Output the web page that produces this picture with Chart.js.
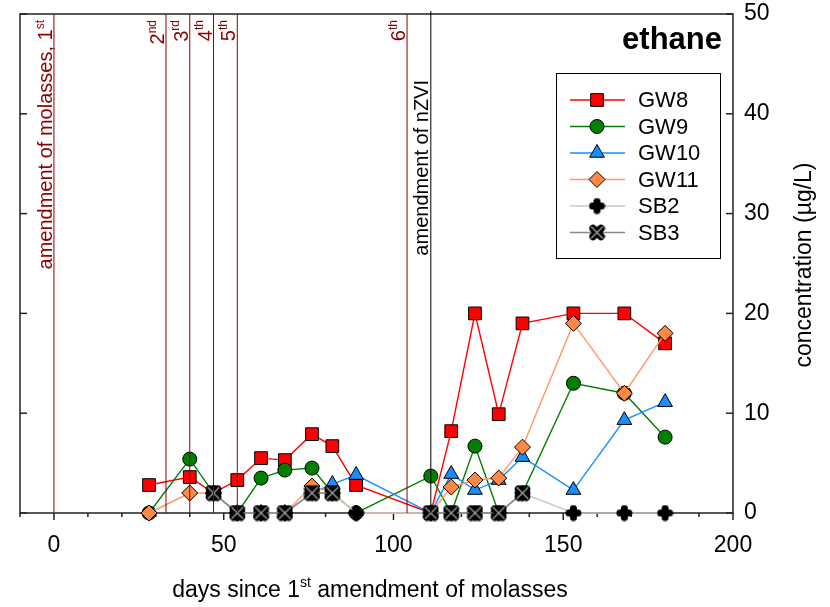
<!DOCTYPE html>
<html>
<head>
<meta charset="utf-8">
<script src="https://cdn.jsdelivr.net/npm/chart.js@4.4.0/dist/chart.umd.min.js"></script>
<style>
  html, body { margin: 0; padding: 0; background: #fff; }
  #wrap { width: 830px; height: 607px; }
</style>
</head>
<body>
<div id="wrap"><canvas id="grafico" width="830" height="607"></canvas></div>
<script>
// dias desde a 1a adição de melaço
const dias = [28, 40, 47, 54, 61, 68, 76, 82, 89, 111, 117, 124, 131, 138, 153, 168, 180];
const gw8  = [2.8, 3.6, 2.0, 3.3, 5.5, 5.3, 7.9, 6.7, 2.8, 0, 8.2, 20, 9.9, 19, 20, 20, 17];
const gw9  = [0, 5.4, 2.0, 0, 3.5, 4.3, 4.5, 2.0, 0, 3.7, 0, 6.7, 0, 2.0, 13, 12, 7.6];
const gw10 = [null, null, 2.0, 0, 0, 0, 2.0, 2.9, 3.8, 0, 3.9, 2.3, 3.3, 5.6, 2.3, 9.3, 11.1];
const gw11 = [0, 2.0, 2.0, 0, 0, 0, 2.7, 2.0, 0, 0, 2.6, 3.3, 3.5, 6.6, 19, 12, 18];
const sb2  = [null, null, 2.0, 0, 0, 0, 2.0, 2.0, 0, 0, 0, 0, 0, 2.0, 0, 0, 0];
const sb3  = [null, null, 2.0, 0, 0, 0, 2.0, 2.0, null, 0, 0, 0, 0, 2.0, null, null, null];

const diasMelaco = [0, 33, 40, 47, 54, 104];
const ordinais = ['1st', '2nd', '3rd', '4th', '5th', '6th'];
const diaNZVI = 111;

const FONTE = '"Liberation Sans", Arial, sans-serif';

function marcadorX() {
  const c = document.createElement('canvas');
  c.width = 17; c.height = 17;
  const g = c.getContext('2d');
  g.lineCap = 'round';
  g.strokeStyle = '#000';
  g.lineWidth = 7.5;
  g.beginPath();
  g.moveTo(4.5, 4.5); g.lineTo(12.5, 12.5);
  g.moveTo(12.5, 4.5); g.lineTo(4.5, 12.5);
  g.stroke();
  g.strokeStyle = '#a8a8a8';
  g.lineWidth = 1.2;
  g.beginPath();
  g.moveTo(3, 3); g.lineTo(14, 14);
  g.moveTo(14, 3); g.lineTo(3, 14);
  g.stroke();
  return c;
}

function marcadorMais() {
  const c = document.createElement('canvas');
  c.width = 17; c.height = 17;
  const g = c.getContext('2d');
  g.lineCap = 'round';
  g.strokeStyle = '#000';
  g.lineWidth = 7;
  g.beginPath();
  g.moveTo(8.5, 4); g.lineTo(8.5, 13);
  g.moveTo(4, 8.5); g.lineTo(13, 8.5);
  g.stroke();
  return c;
}

function pontos(serie) {
  return dias.map((d, i) => ({ x: d, y: serie[i] }));
}

function drawRich(ctx, parts, x, y, angle, align, size, bold, color) {
  const fBase = (bold ? 'bold ' : '') + size + 'px ' + FONTE;
  const fSup = Math.round(size * 0.62) + 'px ' + FONTE;
  ctx.save();
  ctx.translate(x, y);
  ctx.rotate(angle);
  ctx.fillStyle = color;
  ctx.textBaseline = 'alphabetic';
  ctx.textAlign = 'left';
  const w = parts.map(([t, sup]) => { ctx.font = sup ? fSup : fBase; return ctx.measureText(t).width; });
  const total = w.reduce((a, b) => a + b, 0);
  let cx = align === 'right' ? -total : align === 'center' ? -total / 2 : 0;
  parts.forEach(([t, sup], i) => {
    ctx.font = sup ? fSup : fBase;
    ctx.fillText(t, cx, sup ? -size * 0.42 : 0);
    cx += w[i];
  });
  ctx.restore();
}

function linha(ctx, x1, y1, x2, y2) {
  ctx.beginPath();
  ctx.moveTo(x1, y1);
  ctx.lineTo(x2, y2);
  ctx.stroke();
}

const moldura = {
  id: 'moldura',
  beforeDatasetsDraw(chart) {
    const { ctx, chartArea: a, scales } = chart;
    ctx.save();
    ctx.strokeStyle = '#222';
    ctx.lineWidth = 1.5;
    ctx.strokeRect(a.left, a.top, a.right - a.left, a.bottom - a.top);
    scales.x.ticks.forEach(t => {
      const px = scales.x.getPixelForValue(t.value);
      linha(ctx, px, a.bottom, px, a.bottom + (t.value % 50 === 0 ? 7 : 4));
    });
    scales.y.ticks.forEach(t => {
      const py = scales.y.getPixelForValue(t.value);
      linha(ctx, a.left, py, a.left + 7, py);
      linha(ctx, a.right - 7, py, a.right, py);
    });
    ctx.restore();
  },
  afterDatasetsDraw(chart) {
    const { ctx, chartArea: a, scales } = chart;
    ctx.save();
    ctx.lineWidth = 1;
    ctx.strokeStyle = '#8b0000';
    diasMelaco.forEach((d, i) => {
      const px = scales.x.getPixelForValue(d);
      linha(ctx, px, a.top, px, a.bottom);
      const num = ordinais[i].slice(0, 1);
      const suf = ordinais[i].slice(1);
      if (i === 0) {
        drawRich(ctx, [['amendment of molasses, ' + num, 0], [suf, 1]], px - 2, 20, -Math.PI / 2, 'right', 20, false, '#8b0000');
      } else {
        drawRich(ctx, [[num, 0], [suf, 1]], px - 2, 20, -Math.PI / 2, 'right', 20, false, '#8b0000');
      }
    });
    ctx.strokeStyle = '#000';
    const pz = scales.x.getPixelForValue(diaNZVI);
    linha(ctx, pz, a.top - 3, pz, a.bottom);
    drawRich(ctx, [['amendment of nZVI', 0]], pz - 3, 80, -Math.PI / 2, 'right', 20, false, '#000');
    ctx.restore();
  },
  afterDraw(chart) {
    const { ctx } = chart;
    drawRich(ctx, [['ethane', 0]], 722, 49, 0, 'right', 31, true, '#000');
    drawRich(ctx, [['days since 1', 0], ['st', 1], [' amendment of molasses', 0]], 370, 597, 0, 'center', 23, false, '#000');
    drawRich(ctx, [['concentration (µg/L)', 0]], 811, 265, -Math.PI / 2, 'center', 23, false, '#000');

    // legenda
    ctx.save();
    ctx.fillStyle = '#fff';
    ctx.fillRect(556, 73, 164, 185);
    ctx.strokeStyle = '#000';
    ctx.lineWidth = 1;
    ctx.strokeRect(556.5, 73.5, 164, 185);
    chart.data.datasets.forEach((ds, i) => {
      const y = 100 + i * 26.5;
      ctx.strokeStyle = ds.borderColor;
      ctx.lineWidth = 1.5;
      linha(ctx, 570, y, 625, y);
      ctx.fillStyle = ds.pointBackgroundColor;
      ctx.strokeStyle = '#000';
      ctx.lineWidth = 1;
      Chart.helpers.drawPoint(ctx, { pointStyle: ds.pointStyle, radius: ds.pointRadius, borderWidth: 1, rotation: 0 }, 597, y);
      ctx.fillStyle = '#000';
      ctx.font = '22px ' + FONTE;
      ctx.textBaseline = 'middle';
      ctx.textAlign = 'left';
      ctx.fillText(ds.label, 638, y + 1);
    });
    ctx.restore();
  }
};

function serie(label, dados, cor, corLinha, estilo, raio, ordem) {
  return {
    label,
    data: pontos(dados),
    borderColor: corLinha,
    borderWidth: 1.4,
    pointStyle: estilo,
    pointRadius: raio,
    pointBackgroundColor: cor,
    pointBorderColor: '#000',
    pointBorderWidth: 1,
    spanGaps: false,
    clip: false,
    order: ordem
  };
}

new Chart(document.getElementById('grafico'), {
  type: 'line',
  data: {
    datasets: [
      serie('GW8', gw8, '#ff0000', '#ff0000', 'rect', 9, 6),
      serie('GW9', gw9, '#007f00', '#008000', 'circle', 7, 5),
      serie('GW10', gw10, '#1a8cff', '#1a8cff', 'triangle', 8.5, 4),
      serie('GW11', gw11, '#ff8844', '#ff9966', 'rectRot', 8, 3),
      serie('SB2', sb2, '#000', '#c8c8c8', marcadorMais(), 8, 2),
      serie('SB3', sb3, '#000', '#888888', marcadorX(), 8, 1)
    ]
  },
  options: {
    responsive: false,
    animation: false,
    devicePixelRatio: 1,
    layout: { padding: { left: 20, top: 14, right: 0, bottom: 0 } },
    plugins: { legend: { display: false }, tooltip: { enabled: false } },
    elements: { line: { tension: 0 } },
    scales: {
      x: {
        type: 'linear',
        min: -10,
        max: 200,
        grid: { display: false, drawTicks: false },
        border: { display: false },
        ticks: {
          stepSize: 10,
          autoSkip: false,
          maxRotation: 0,
          padding: 19,
          color: '#000',
          font: { family: FONTE, size: 23 },
          callback: v => (v % 50 === 0 ? v : '')
        },
        afterFit: s => { s.height = 94; s.paddingLeft = 0; s.paddingRight = 0; }
      },
      y: {
        position: 'right',
        min: 0,
        max: 50,
        grid: { display: false, drawTicks: false },
        border: { display: false },
        ticks: {
          stepSize: 10,
          padding: 11,
          color: '#000',
          font: { family: FONTE, size: 23 }
        },
        afterFit: s => { s.width = 97; s.paddingTop = 0; s.paddingBottom = 0; }
      }
    }
  },
  plugins: [moldura]
});
</script>
</body>
</html>
